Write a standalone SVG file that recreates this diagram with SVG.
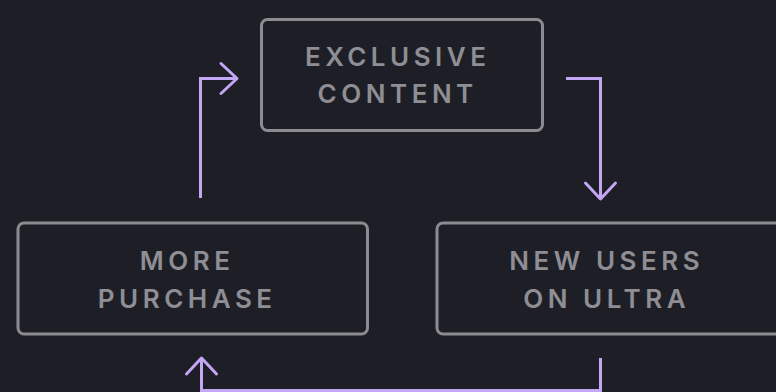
<svg xmlns="http://www.w3.org/2000/svg" width="776" height="392" viewBox="0 0 776 392">
<defs>
<style>
.box{fill:none;stroke:#8b8b91;stroke-width:3}
.lbl{font-family:Inter,"Liberation Sans",sans-serif;font-size:26px;font-weight:600;letter-spacing:4.5px;fill:#8e8e94;text-anchor:middle}
.conn{fill:none;stroke:#c3a6f4;stroke-width:3;stroke-linejoin:miter}
</style>
<marker id="arr" markerUnits="userSpaceOnUse" markerWidth="40" markerHeight="40" refX="0" refY="0" viewBox="-20 -20 40 40" orient="auto" overflow="visible">
<path d="M-16,-15 L0,0 L-16,15" fill="none" stroke="#c3a6f4" stroke-width="3" stroke-linecap="round" stroke-linejoin="round"/>
</marker>
</defs>
<rect width="776" height="392" fill="#1e1f26"/>
<g id="connectors">
<path class="conn" d="M200.5,198 V78.5 H237" marker-end="url(#arr)"/>
<path class="conn" d="M566,78.5 H600.5 V199" marker-end="url(#arr)"/>
<path class="conn" d="M600.5,358 V390.5 H201.5 V358" marker-end="url(#arr)"/>
</g>
<g id="exclusive-content">
<rect class="box" x="261.5" y="19.5" width="281" height="111" rx="6"/>
<text class="lbl" x="397.7" y="66">EXCLUSIVE</text>
<text class="lbl" x="397.7" y="103">CONTENT</text>
</g>
<g id="more-purchase">
<rect class="box" x="18" y="223" width="349.5" height="111" rx="6"/>
<text class="lbl" x="187.2" y="270">MORE</text>
<text class="lbl" x="187.2" y="308">PURCHASE</text>
</g>
<g id="new-users">
<rect class="box" x="437" y="223" width="349.5" height="111" rx="6"/>
<text class="lbl" x="606.7" y="270">NEW USERS</text>
<text class="lbl" x="606.7" y="308">ON ULTRA</text>
</g>
</svg>
